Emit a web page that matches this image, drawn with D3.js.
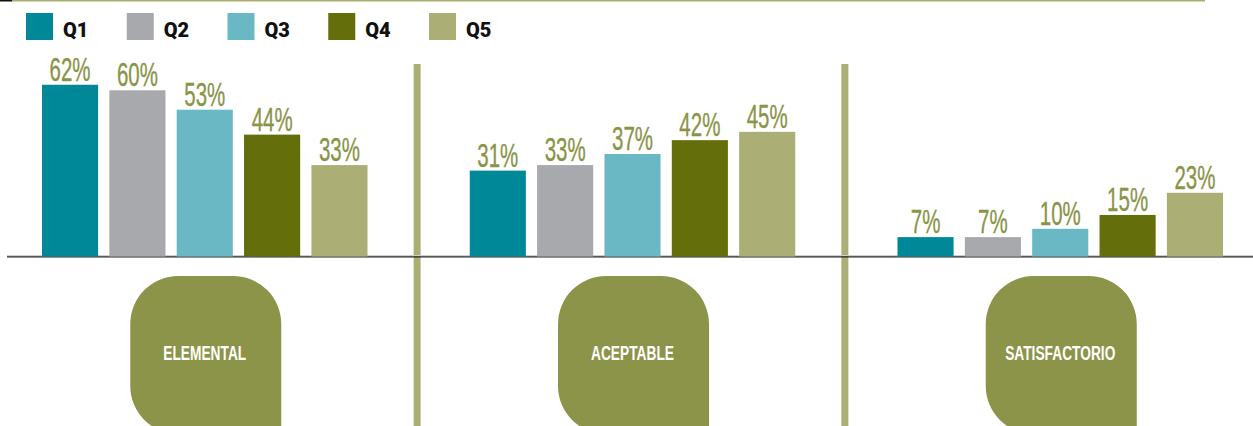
<!DOCTYPE html>
<html>
<head>
<meta charset="utf-8">
<script src="https://cdn.jsdelivr.net/npm/d3@7"></script>
<style>
  body { margin: 0; background: #fff; }
  svg { display: block; }
</style>
</head>
<body>
<svg width="1253" height="426"></svg>
<script>
var levels = ["ELEMENTAL", "ACEPTABLE", "SATISFACTORIO"]
var quintiles = ["Q1", "Q2", "Q3", "Q4", "Q5"]
var elemental = [62, 60, 53, 44, 33]
var aceptable = [31, 33, 37, 42, 45]
var satisfactorio = [7, 7, 10, 15, 23]

var colors = ["#008899", "#a8a9ad", "#6bb8c5", "#646e0a", "#abaf75"]
var width = 1253, height = 426
var base = 256.5

var series = [elemental, aceptable, satisfactorio]
var data = []
levels.forEach((lv, i) => {
  quintiles.forEach((q, j) => data.push({level: lv, q: q, value: series[i][j]}))
})

var x0 = d3.scaleBand().domain(levels).range([42, 1223]).paddingInner(0.239).paddingOuter(0)
var x1 = d3.scaleBand().domain(quintiles).range([0, x0.bandwidth()]).paddingInner(0.167)
var y = d3.scaleLinear().domain([0, 100]).range([base, base - 277])
var color = d3.scaleOrdinal(quintiles, colors)
var legendX = d3.scalePoint().domain(quintiles).range([26, 429])

var svg = d3.select("svg")

var valueFont = "33.5px 'Liberation Sans', Arial, sans-serif"
var boxFont = "bold 20px 'Liberation Sans', Arial, sans-serif"

// squeeze factor so the condensed look fits the reference widths
function squeeze(font, str, target) {
  var t = svg.append("text").style("font", font).text(str)
  var w = t.node().getComputedTextLength()
  t.remove()
  return target / w
}
var sxValue = squeeze(valueFont, "62%", 41)
var sxBox = squeeze(boxFont, "ELEMENTAL", 83)

// top rule
svg.append("line").attr("x1", 0).attr("x2", 12).attr("y1", 0.75).attr("y2", 0.75)
  .attr("stroke", "#111").attr("stroke-width", 1.5)
svg.append("line").attr("x1", 12).attr("x2", 1205).attr("y1", 0.75).attr("y2", 0.75)
  .attr("stroke", "#a9ad6f").attr("stroke-width", 1.5)

// legend
var leg = svg.append("g").selectAll("g").data(quintiles).join("g")
  .attr("transform", d => `translate(${legendX(d)},13)`)
leg.append("rect").attr("width", 27).attr("height", 27).attr("fill", d => color(d))
leg.append("text").attr("x", 37).attr("y", 24)
  .style("font", "900 20px Roboto, 'DejaVu Sans', sans-serif")
  .attr("fill", "#111")
  .text(d => d)

// separators
levels.slice(1).forEach(lv => {
  var mid = x0(lv) - (x0.step() - x0.bandwidth()) / 2 - 1.5
  svg.append("rect").attr("x", mid - 3.5).attr("y", 64).attr("width", 7).attr("height", height - 64)
    .attr("fill", "#abaf75")
})

// baseline
svg.append("line").attr("x1", 7).attr("x2", width).attr("y1", base - 1).attr("y2", base - 1)
  .attr("stroke", "#cfcfcf").attr("stroke-width", 1)
svg.append("line").attr("x1", 7).attr("x2", width).attr("y1", base + 0.3).attr("y2", base + 0.3)
  .attr("stroke", "#222").attr("stroke-width", 1.3)

// bars
svg.append("g").selectAll("rect").data(data).join("rect")
  .attr("x", d => x0(d.level) + x1(d.q))
  .attr("y", d => y(d.value))
  .attr("width", x1.bandwidth())
  .attr("height", d => y(0) - y(d.value))
  .attr("fill", d => color(d.q))

// value labels
svg.append("g").selectAll("text").data(data).join("text")
  .attr("transform", d => `translate(${x0(d.level) + x1(d.q) + x1.bandwidth() / 2},${y(d.value) - 4}) scale(${sxValue},1)`)
  .attr("text-anchor", "middle")
  .style("font", valueFont)
  .attr("fill", "#8a9448")
  .attr("stroke", "#8a9448")
  .attr("stroke-width", 0.35)
  .text(d => d.value + "%")

// category boxes
var bw = 151, bh = 158, r = 48
function boxPath(x, yt) {
  var p = d3.path()
  p.moveTo(x + r, yt)
  p.lineTo(x + bw - r, yt)
  p.arcTo(x + bw, yt, x + bw, yt + r, r)
  p.lineTo(x + bw, yt + bh)
  p.lineTo(x + r, yt + bh)
  p.arcTo(x, yt + bh, x, yt + bh - r, r)
  p.lineTo(x, yt + r)
  p.arcTo(x, yt, x + r, yt, r)
  p.closePath()
  return p.toString()
}
var boxes = svg.append("g").selectAll("g").data(levels).join("g")
boxes.append("path")
  .attr("d", d => boxPath(x0(d) + x0.bandwidth() / 2 - bw / 2 + 1, 276))
  .attr("fill", "#8c9449")
boxes.append("text")
  .attr("transform", d => `translate(${x0(d) + x0.bandwidth() / 2},360) scale(${sxBox},1)`)
  .attr("text-anchor", "middle")
  .style("font", boxFont)
  .attr("fill", "#fff")
  .text(d => d)
</script>
</body>
</html>
